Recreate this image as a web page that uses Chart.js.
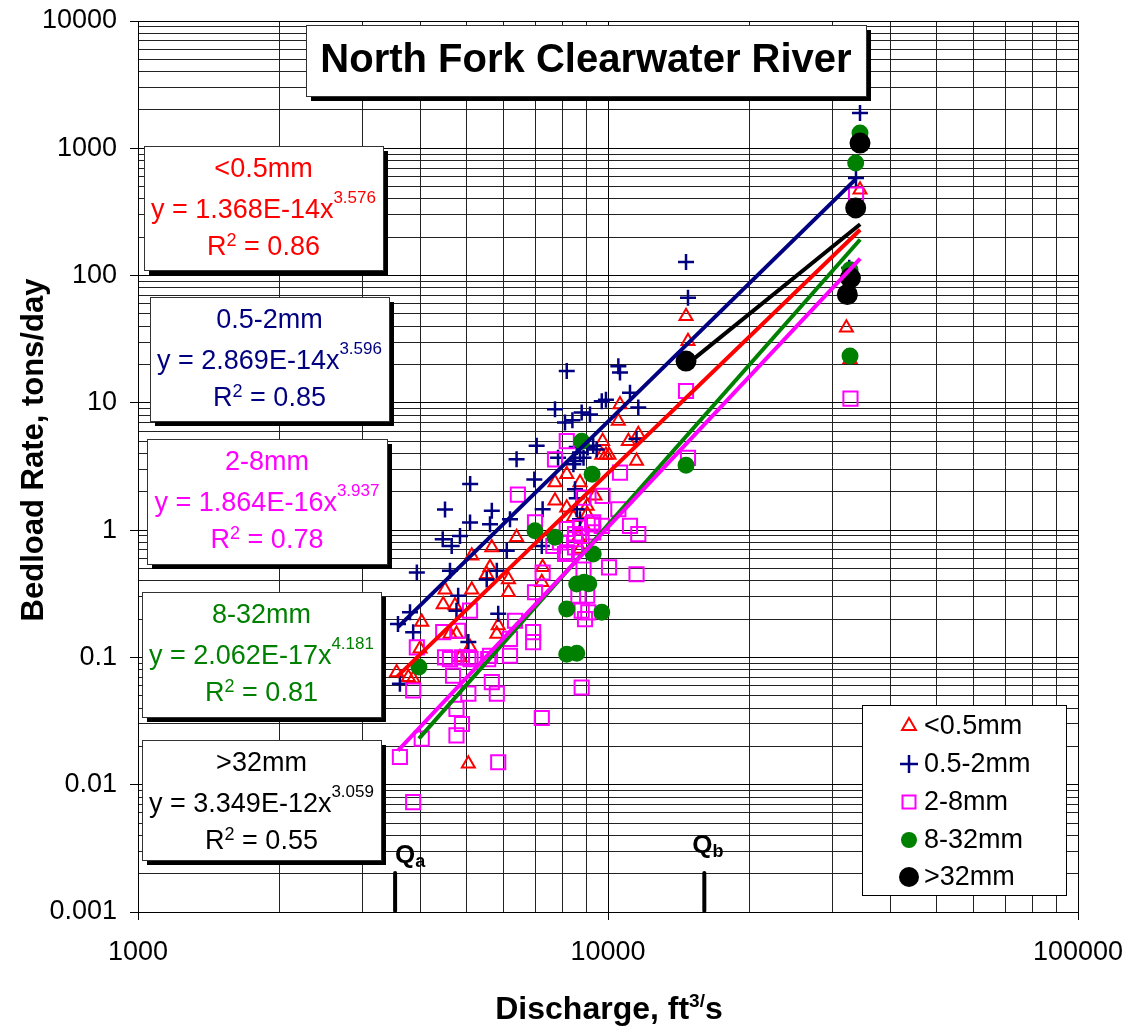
<!DOCTYPE html>
<html lang="en">
<head>
<meta charset="UTF-8">
<title>North Fork Clearwater River</title>
<script src="https://cdn.jsdelivr.net/npm/chart.js"></script>
<style>
  body { margin: 0; background: #fff; }
  .wrap { width: 1129px; height: 1028px; position: relative; }
</style>
</head>
<body>
<div class="wrap"><canvas id="chart"></canvas></div>
<script>
// values: discharge (ft3/s) and bedload rate (tons/day)
const fineQ = [9740, 9900, 11050, 11500, 8170, 7713, 8718, 7713, 6390, 5660, 5130, 5610, 5520, 6140, 4500, 5130, 6140, 4460, 4726, 4015,
  4611, 4760, 5087, 5840, 5800, 3981, 4843, 3550, 3760, 3850, 5045, 7260, 7230, 8650, 8870, 10605, 10520, 11600, 9700, 10050,
  8170, 8440, 9030, 9030, 9383, 8718, 14656, 14798, 34370, 32150, 32730];
const fineRate = [5.0, 3.9, 5.0, 3.5, 2.75, 2.37, 2.37, 1.7, 0.88, 0.73, 0.63, 0.51, 0.45, 0.41, 0.34, 0.34, 0.325, 0.26, 0.256, 0.19,
  0.153, 0.153, 0.12, 0.178, 0.153, 0.117, 0.1, 0.076, 0.07, 0.068, 0.0146, 0.51, 0.39, 0.88, 1.08, 9.7, 7.2, 5.66, 3.9, 3.9,
  1.5, 1.26, 1.34, 1.55, 1.86, 0.71, 48, 30.5, 473, 38.9, 22];

const sandQ = [7050, 6390, 5090, 6970, 4500, 5660, 5087, 5610, 4843, 4450, 4650, 6187, 6090, 7230, 3920, 4611, 5520, 5800, 4800, 4760,
  5840, 3791, 3574, 3850, 5045, 3608, 8580, 8718, 8718, 9050, 9300, 7830, 8580, 7713, 8100, 8400, 8790, 9156, 9700, 9900,
  11138, 11600, 11500, 9460, 8580, 8510, 8870, 8440, 8508, 7260, 8170, 10520, 10605, 14656, 14798, 34370, 33700, 32600, 32600];
const sandRate = [4.6, 3.6, 2.3, 2.5, 1.45, 1.42, 1.15, 1.11, 0.9, 0.85, 0.75, 1.22, 0.69, 0.75, 0.465, 0.48, 0.41, 0.48, 0.305, 0.233,
  0.22, 0.226, 0.183, 0.158, 0.132, 0.062, 1.46, 1.22, 4.07, 4.45, 4.6, 3.7, 1.78, 8.9, 7.0, 7.3, 8.4, 8.1, 10.3, 10.6,
  12.0, 9.2, 5.2, 4.3, 4.5, 3.5, 3.7, 3.3, 2.1, 1.46, 17.8, 19.4, 17.3, 128, 66.8, 1890, 584, 115, 69];

const gravelQ = [8170, 7713, 10605, 6430, 9740, 10520, 6993, 8170, 8718, 9250, 9300, 8790, 11138, 11600, 7650, 8101, 8870, 10050, 11500, 7260,
  6993, 8650, 9030, 8790, 9080, 8935, 5087, 6341, 6930, 6930, 6187, 4460, 4800, 3920, 4500, 4611, 5045, 5100, 5610, 5560,
  6187, 4680, 5045, 5660, 5800, 3850, 4760, 4890, 4760, 4015, 3608, 5840, 7230, 3850, 8790, 4890, 8870, 9300, 9700, 8508,
  8508, 7905, 8170, 8508, 14656, 14798, 33710, 32800];
const gravelRate = [5.0, 3.6, 2.83, 1.9, 1.86, 1.46, 1.15, 1.02, 1.05, 1.11, 0.96, 0.9, 1.08, 0.93, 0.75, 0.65, 0.49, 0.51, 0.45, 0.465,
  0.325, 0.305, 0.305, 0.233, 0.226, 0.2, 0.233, 0.194, 0.158, 0.132, 0.14, 0.158, 0.162, 0.12, 0.1, 0.097, 0.1, 0.097, 0.103, 0.097,
  0.103, 0.072, 0.052, 0.064, 0.052, 0.055, 0.0394, 0.03, 0.0244, 0.023, 0.0165, 0.015, 0.0334, 0.0073, 0.058, 0.1, 1.8, 1.15, 1.08, 0.93,
  0.85, 0.8, 0.67, 0.73, 12.4, 3.7, 432, 10.8];

const pebbleQ = [8790, 9250, 6993, 7713, 9300, 8580, 8900, 9100, 8170, 9700, 8170, 8580, 3960, 14656, 34370, 33650, 32730, 32730];
const pebbleRate = [5.0, 2.75, 0.99, 0.88, 0.65, 0.377, 0.39, 0.38, 0.24, 0.226, 0.106, 0.108, 0.084, 3.23, 1316, 765, 111, 23.3];

const cobbleQ = [14656, 34370, 33650, 32800, 32300];
const cobbleRate = [21.3, 1099, 340, 96, 71];

// power-law trendline ends
const fineTrendQ = [3550, 34400], fineTrendRate = [0.07, 229];
const sandTrendQ = [3574, 33710], sandTrendRate = [0.173, 575];
const gravelTrendQ = [3574, 34400], gravelTrendRate = [0.0185, 136];
const pebbleTrendQ = [3960, 34400], pebbleTrendRate = [0.023, 192];
const cobbleTrendQ = [14656, 34400], cobbleTrendRate = [19.8, 253];

const seriesNames = ['<0.5mm', '0.5-2mm', '2-8mm', '8-32mm', '>32mm'];
const fitCoef = ['1.368E-14', '2.869E-14', '1.864E-16', '2.062E-17', '3.349E-12'];
const fitExp = ['3.576', '3.596', '3.937', '4.181', '3.059'];
const fitR2 = ['0.86', '0.85', '0.78', '0.81', '0.55'];

// Qa and Qb discharges marked on the x axis
const markQ = [3524, 16030];
const markSub = ['a', 'b'];

const majorX = [1000, 10000, 100000];
const majorY = [0.001, 0.01, 0.1, 1, 10, 100, 1000, 10000];

const colors = ['#FF0000', '#000080', '#FF00FF', '#008000', '#000000'];
const FONT = "'Liberation Sans', Arial, sans-serif";

function pts(q, r) { return q.map((v, i) => ({ x: v, y: r[i] })); }

function logTicks(majors) {
  const t = [];
  for (let i = 0; i < majors.length; i++) {
    t.push(majors[i]);
    if (i < majors.length - 1) {
      for (let k = 2; k <= 9; k++) t.push(+(majors[i] * k).toPrecision(6));
    }
  }
  return t.map(v => ({ value: v }));
}

function richText(ctx, parts, x, y, center) {
  let w = 0;
  parts.forEach(p => { ctx.font = p[1]; w += ctx.measureText(p[0]).width; });
  let cx = center ? x - w / 2 : x;
  ctx.textAlign = 'left';
  ctx.textBaseline = 'alphabetic';
  parts.forEach(p => {
    ctx.font = p[1];
    ctx.fillText(p[0], cx, y - (p[2] || 0));
    cx += ctx.measureText(p[0]).width;
  });
}

function shadowBox(ctx, l, t, r, b) {
  ctx.fillStyle = '#000';
  ctx.fillRect(l + 5, t + 5, r - l, b - t);
  ctx.fillStyle = '#fff';
  ctx.fillRect(l, t, r - l, b - t);
  ctx.strokeStyle = '#333';
  ctx.lineWidth = 1;
  ctx.strokeRect(l + 0.5, t + 0.5, r - l, b - t);
}

function marker(ctx, kind, x, y) {
  ctx.save();
  ctx.lineWidth = 2;
  if (kind === 0) {
    const r = 8;
    ctx.strokeStyle = colors[0];
    ctx.beginPath();
    ctx.moveTo(x, y - r);
    ctx.lineTo(x + r * 0.866, y + r * 0.5);
    ctx.lineTo(x - r * 0.866, y + r * 0.5);
    ctx.closePath();
    ctx.stroke();
  } else if (kind === 1) {
    ctx.strokeStyle = colors[1];
    ctx.lineWidth = 2.5;
    ctx.beginPath();
    ctx.moveTo(x - 9, y); ctx.lineTo(x + 9, y);
    ctx.moveTo(x, y - 9); ctx.lineTo(x, y + 9);
    ctx.stroke();
  } else if (kind === 2) {
    ctx.strokeStyle = colors[2];
    ctx.strokeRect(x - 6.5, y - 6.5, 13, 13);
  } else {
    ctx.fillStyle = colors[kind];
    ctx.beginPath();
    ctx.arc(x, y, kind === 3 ? 8 : 10, 0, Math.PI * 2);
    ctx.fill();
  }
  ctx.restore();
}

const eqBoxes = [
  { l: 144, t: 146, r: 383, b: 270 },
  { l: 150, t: 297, r: 389, b: 421 },
  { l: 147, t: 439, r: 387, b: 564 },
  { l: 142, t: 592, r: 381, b: 717 },
  { l: 142, t: 740, r: 381, b: 860 }
];

const overlay = {
  id: 'overlay',
  afterDraw(chart) {
    const ctx = chart.ctx;
    const xs = chart.scales.x;
    ctx.save();

    // title
    shadowBox(ctx, 306, 25, 866, 96);
    ctx.fillStyle = '#000';
    ctx.font = 'bold 40px ' + FONT;
    ctx.textAlign = 'center';
    ctx.textBaseline = 'alphabetic';
    ctx.fillText('North Fork Clearwater River', 586, 72);

    // trendline equation boxes
    eqBoxes.forEach((bx, i) => {
      shadowBox(ctx, bx.l, bx.t, bx.r, bx.b);
      const cx = (bx.l + bx.r) / 2;
      ctx.fillStyle = colors[i];
      ctx.font = '27px ' + FONT;
      ctx.textAlign = 'center';
      ctx.fillText(seriesNames[i], cx, bx.t + 31);
      richText(ctx, [['y = ' + fitCoef[i] + 'x', '27px ' + FONT], [fitExp[i], '17px ' + FONT, 15]], cx, bx.t + 72, true);
      richText(ctx, [['R', '27px ' + FONT], ['2', '18px ' + FONT, 9], [' = ' + fitR2[i], '27px ' + FONT]], cx, bx.t + 109, true);
    });

    // legend
    ctx.fillStyle = '#fff';
    ctx.fillRect(862, 705, 204, 190);
    ctx.strokeStyle = '#000';
    ctx.lineWidth = 1;
    ctx.strokeRect(862.5, 705.5, 204, 190);
    const rows = [726, 764, 802, 840, 877];
    seriesNames.forEach((n, i) => {
      marker(ctx, i, 909, rows[i]);
      ctx.fillStyle = '#000';
      ctx.font = '27px ' + FONT;
      ctx.textAlign = 'left';
      ctx.textBaseline = 'middle';
      ctx.fillText(n, 924, rows[i] + 1);
    });

    // Qa / Qb marks
    const bottom = chart.chartArea.bottom;
    markQ.forEach((q, i) => {
      const px = xs.getPixelForValue(q);
      ctx.strokeStyle = '#000';
      ctx.lineWidth = 4;
      ctx.lineCap = 'round';
      ctx.beginPath();
      ctx.moveTo(px, bottom - 39);
      ctx.lineTo(px, bottom - 1);
      ctx.stroke();
      ctx.fillStyle = '#000';
      const lx = i === 0 ? px : px - 12;
      const by = i === 0 ? bottom - 49 : bottom - 59;
      richText(ctx, [['Q', 'bold 26px ' + FONT], [markSub[i], 'bold 18px ' + FONT, -4]], lx, by, false);
    });

    // axis titles
    ctx.fillStyle = '#000';
    richText(ctx, [['Discharge, ft', 'bold 32px ' + FONT], ['3/', 'bold 19px ' + FONT, 12], ['s', 'bold 32px ' + FONT]], 609, 1019, true);
    ctx.translate(43, 450);
    ctx.rotate(-Math.PI / 2);
    ctx.font = 'bold 31px ' + FONT;
    ctx.textAlign = 'center';
    ctx.textBaseline = 'alphabetic';
    ctx.fillText('Bedload Rate, tons/day', 0, 0);
    ctx.restore();
  }
};

function scatterSet(q, r, i, style, radius, filled, order) {
  return {
    data: pts(q, r),
    showLine: false,
    pointStyle: style,
    pointRadius: radius,
    pointBorderWidth: i === 1 ? 2.5 : 2,
    pointBorderColor: colors[i],
    pointBackgroundColor: filled ? colors[i] : 'rgba(0,0,0,0)',
    order: order
  };
}

function trendSet(q, r, i) {
  return {
    data: pts(q, r),
    showLine: true,
    borderColor: colors[i],
    borderWidth: 4,
    pointRadius: 0,
    fill: false,
    order: 0
  };
}

const gridColor = majors => c => (c.tick && majors.includes(c.tick.value)) ? '#000' : '#222';
const tickColor = majors => c => (c.tick && majors.includes(c.tick.value)) ? '#000' : 'rgba(0,0,0,0)';

new Chart(document.getElementById('chart'), {
  type: 'scatter',
  data: {
    datasets: [
      scatterSet(fineQ, fineRate, 0, 'triangle', 7.5, false, 5),
      scatterSet(sandQ, sandRate, 1, 'cross', 8, false, 4),
      scatterSet(gravelQ, gravelRate, 2, 'rect', 10, false, 3),
      scatterSet(pebbleQ, pebbleRate, 3, 'circle', 7.5, true, 2),
      scatterSet(cobbleQ, cobbleRate, 4, 'circle', 9.5, true, 1),
      trendSet(fineTrendQ, fineTrendRate, 0),
      trendSet(sandTrendQ, sandTrendRate, 1),
      trendSet(gravelTrendQ, gravelTrendRate, 2),
      trendSet(pebbleTrendQ, pebbleTrendRate, 3),
      trendSet(cobbleTrendQ, cobbleTrendRate, 4)
    ]
  },
  options: {
    responsive: true,
    maintainAspectRatio: false,
    animation: false,
    events: [],
    layout: { autoPadding: false, padding: { top: 21, right: 51, left: 0, bottom: 0 } },
    plugins: { legend: { display: false }, tooltip: { enabled: false } },
    scales: {
      x: {
        type: 'logarithmic',
        min: 1000,
        max: 100000,
        afterBuildTicks: s => { s.ticks = logTicks(majorX); },
        afterFit: s => { s.height = 116; s.paddingLeft = 0; s.paddingRight = 0; },
        grid: { color: gridColor(majorX), lineWidth: 1, tickLength: 8, tickColor: tickColor(majorX) },
        border: { color: '#000', width: 1 },
        ticks: {
          autoSkip: false, maxRotation: 0, padding: 16, color: '#000',
          font: { family: FONT, size: 27 },
          callback: v => majorX.includes(v) ? String(v) : ''
        }
      },
      y: {
        type: 'logarithmic',
        min: 0.001,
        max: 10000,
        afterBuildTicks: s => { s.ticks = logTicks(majorY); },
        afterFit: s => { s.width = 138; s.paddingTop = 0; s.paddingBottom = 0; },
        grid: { color: gridColor(majorY), lineWidth: 1, tickLength: 8, tickColor: tickColor(majorY) },
        border: { color: '#000', width: 1 },
        ticks: {
          autoSkip: false, padding: 13, color: '#000',
          font: { family: FONT, size: 27 },
          callback: v => majorY.includes(v) ? String(v) : ''
        }
      }
    }
  },
  plugins: [overlay]
});
</script>
</body>
</html>
